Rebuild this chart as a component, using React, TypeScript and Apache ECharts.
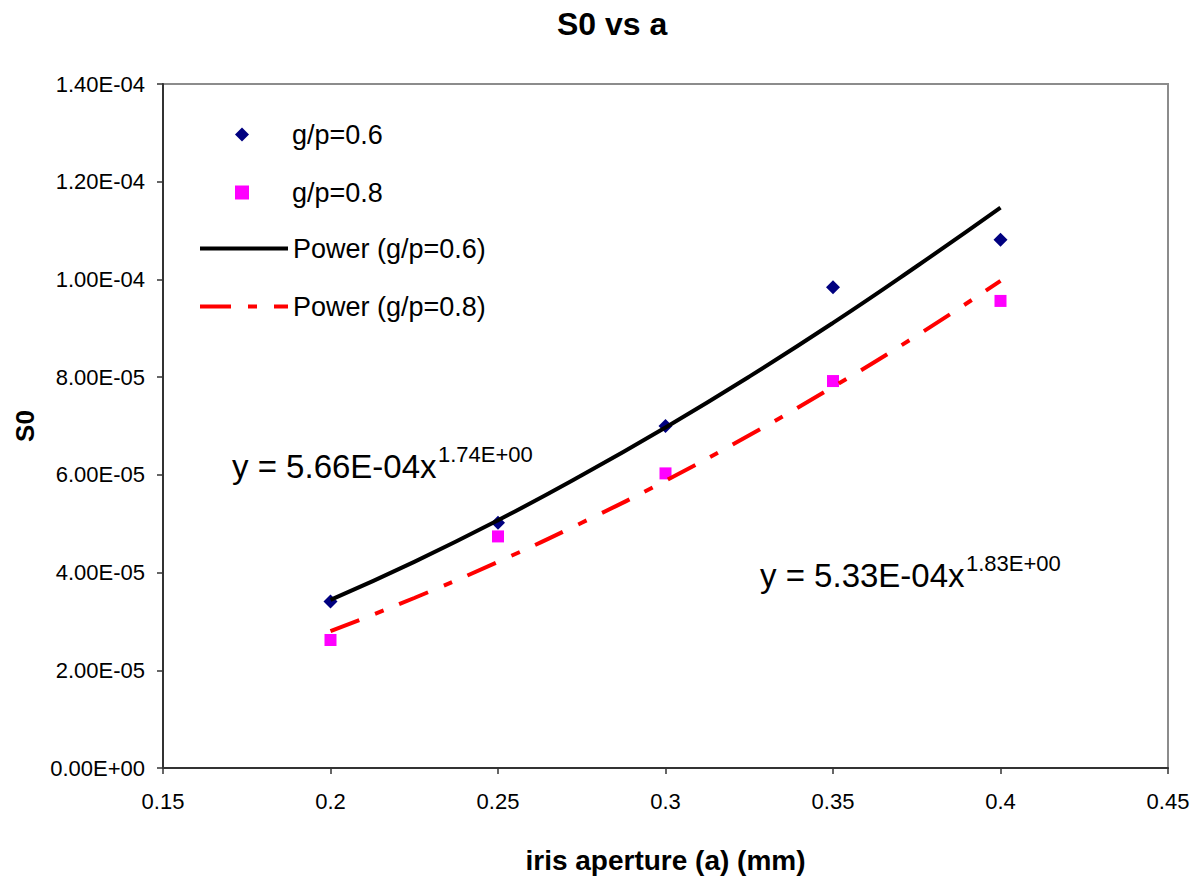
import React, { useEffect, useRef } from "react";
import * as echarts from "echarts";

const apertures = [0.2, 0.25, 0.3, 0.35, 0.4];
const s0Gp06 = [3.41e-5, 5.02e-5, 7.0e-5, 9.84e-5, 1.081e-4];
const s0Gp08 = [2.62e-5, 4.74e-5, 6.03e-5, 7.92e-5, 9.56e-5];

const trendX = [0.2, 0.225, 0.25, 0.275, 0.3, 0.325, 0.35, 0.375, 0.4];
const trendGp06 = [3.44e-5, 4.22e-5, 5.07e-5, 5.99e-5, 6.97e-5, 8.01e-5, 9.11e-5, 1.027e-4, 1.147e-4];
const trendGp08 = [2.8e-5, 3.48e-5, 4.22e-5, 5.02e-5, 5.88e-5, 6.81e-5, 7.8e-5, 8.85e-5, 9.97e-5];

const seriesNames = ["g/p=0.6", "g/p=0.8", "Power (g/p=0.6)", "Power (g/p=0.8)"];
const equations = [
  { main: "y = 5.66E-04x", sup: "1.74E+00" },
  { main: "y = 5.33E-04x", sup: "1.83E+00" },
];

const FONT = "'Liberation Sans', Arial, Helvetica, sans-serif";

function fmtSci(v: number): string {
  if (v === 0) return "0.00E+00";
  const e = Math.floor(Math.log10(Math.abs(v)) + 1e-9);
  const m = v / Math.pow(10, e);
  const sign = e < 0 ? "-" : "+";
  const ae = Math.abs(e);
  return m.toFixed(2) + "E" + sign + (ae < 10 ? "0" + ae : String(ae));
}

function zip(xs: number[], ys: number[]) {
  return xs.map((x, i) => [x, ys[i]]);
}

export default function App() {
  const ref = useRef<HTMLDivElement>(null);
  useEffect(() => {
    if (!ref.current) return;
    const chart = echarts.init(ref.current, undefined, { renderer: "svg" });
    const axisColor = "#333";
    const legendText = { fontFamily: FONT, fontSize: 27, color: "#000", lineHeight: 26 };
    chart.setOption({
      animation: false,
      backgroundColor: "#fff",
      textStyle: { fontFamily: FONT },
      title: {
        text: "S0 vs a",
        left: 552,
        top: 3,
        textStyle: { fontFamily: FONT, fontSize: 32, fontWeight: "bold", color: "#000" },
      },
      grid: {
        left: 163,
        right: 30,
        top: 84,
        bottom: 101,
        show: true,
        borderColor: "#8c8c8c",
        borderWidth: 2,
      },
      legend: [
        {
          orient: "vertical",
          left: 230,
          top: 116,
          itemWidth: 14,
          itemHeight: 14,
          itemGap: 31,
          data: seriesNames.slice(0, 2),
          textStyle: { ...legendText, padding: [0, 0, 0, 38] },
        },
        {
          orient: "vertical",
          left: 193,
          top: 230,
          itemWidth: 88,
          itemHeight: 14,
          itemGap: 31,
          itemStyle: { opacity: 0 },
          lineStyle: { width: 4 },
          data: seriesNames.slice(2),
          textStyle: legendText,
        },
      ],
      xAxis: {
        type: "value",
        min: 0.15,
        max: 0.45,
        interval: 0.05,
        name: "iris aperture (a) (mm)",
        nameLocation: "middle",
        nameGap: 78,
        nameTextStyle: { fontFamily: FONT, fontSize: 28, fontWeight: "bold", color: "#000" },
        axisLine: { show: true, onZero: false, lineStyle: { color: axisColor, width: 2 } },
        axisTick: { show: true, inside: false, length: 6, lineStyle: { color: axisColor, width: 1.5 } },
        axisLabel: {
          fontFamily: FONT,
          fontSize: 22,
          color: "#000",
          margin: 22,
          formatter: (v: number) => String(parseFloat(v.toFixed(2))),
        },
        splitLine: { show: false },
      },
      yAxis: {
        type: "value",
        min: 0,
        max: 1.4e-4,
        interval: 2e-5,
        name: "S0",
        nameLocation: "middle",
        nameGap: 125,
        nameTextStyle: { fontFamily: FONT, fontSize: 26, fontWeight: "bold", color: "#000" },
        axisLine: { show: true, onZero: false, lineStyle: { color: axisColor, width: 2 } },
        axisTick: { show: true, inside: false, length: 6, lineStyle: { color: axisColor, width: 1.5 } },
        axisLabel: {
          fontFamily: FONT,
          fontSize: 22,
          color: "#000",
          margin: 18,
          formatter: (v: number) => fmtSci(v),
        },
        splitLine: { show: false },
      },
      series: [
        {
          name: seriesNames[0],
          type: "scatter",
          symbol: "diamond",
          symbolSize: 14,
          itemStyle: { color: "#000080", opacity: 1 },
          data: zip(apertures, s0Gp06),
          z: 2,
        },
        {
          name: seriesNames[1],
          type: "scatter",
          symbol: "rect",
          symbolSize: 12,
          itemStyle: { color: "#ff00ff", opacity: 1 },
          data: zip(apertures, s0Gp08),
          z: 2,
        },
        {
          name: seriesNames[2],
          type: "line",
          symbol: "none",
          showSymbol: false,
          smooth: true,
          lineStyle: { color: "#000", width: 4 },
          itemStyle: { color: "#000" },
          data: zip(trendX, trendGp06),
          z: 3,
        },
        {
          name: seriesNames[3],
          type: "line",
          symbol: "none",
          showSymbol: false,
          smooth: true,
          lineStyle: { color: "#ff0000", width: 4, type: [31, 17, 9, 17], cap: "butt" },
          itemStyle: { color: "#ff0000" },
          data: zip(trendX, trendGp08),
          z: 3,
        },
      ],
      graphic: [
        {
          type: "text",
          left: 232,
          top: 469 - 19,
          style: { text: equations[0].main, font: `33px ${FONT}`, fill: "#000" },
        },
        {
          type: "text",
          left: 438,
          top: 455 - 12,
          style: { text: equations[0].sup, font: `22px ${FONT}`, fill: "#000" },
        },
        {
          type: "text",
          left: 760,
          top: 578 - 19,
          style: { text: equations[1].main, font: `33px ${FONT}`, fill: "#000" },
        },
        {
          type: "text",
          left: 966,
          top: 564 - 12,
          style: { text: equations[1].sup, font: `22px ${FONT}`, fill: "#000" },
        },
      ],
    });
    return () => chart.dispose();
  }, []);
  return (
    <div
      ref={ref}
      style={{ position: "absolute", left: 0, top: 0, width: 1198, height: 879, background: "#fff" }}
    />
  );
}
